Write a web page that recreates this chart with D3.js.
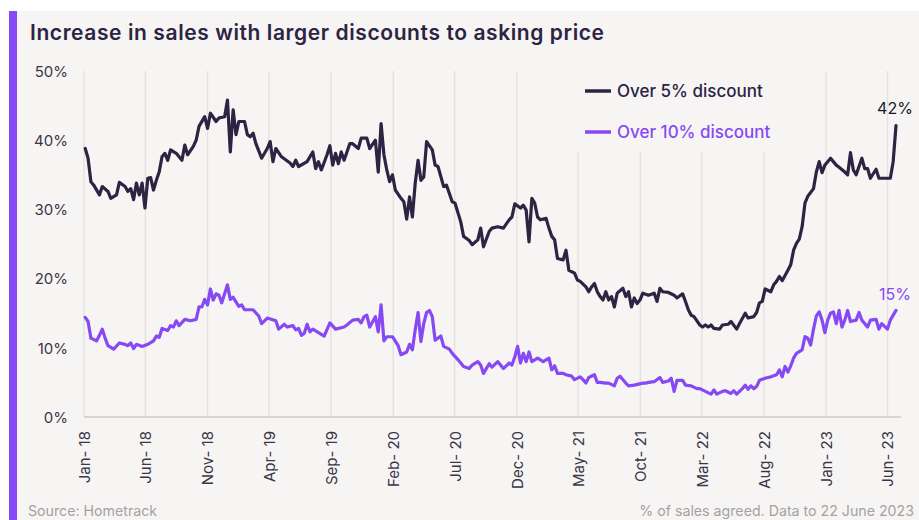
<!DOCTYPE html>
<html>
<head>
<meta charset="utf-8">
<script src="https://cdn.jsdelivr.net/npm/d3@7"></script>
<style>
  body { margin: 0; background: #ffffff; }
  svg text { font-family: Inter, "Open Sans", sans-serif; }
</style>
</head>
<body>
<div id="chart"></div>
<script>
// weekly readings, [week number from 4 Jan 2018, % of sales agreed]
const over5 = [
  [0,38.8],[1,37.4],[2,34.0],[3,33.5],[5,32.1],[6,33.3],[8,32.6],[9,31.6],[11,32.1],[12,33.9],
  [14,33.3],[15,32.6],[16,33.0],[17,31.4],[18,33.8],[19,32.1],[20,33.8],[21,30.2],[22,34.5],[23,34.6],
  [24,32.8],[25,34.2],[26,35.4],[27,37.6],[28,38.1],[29,37.1],[30,38.6],[32,38.1],[34,37.1],[35,39.3],
  [36,37.9],[38,39.1],[39,40.0],[40,42.0],[42,43.4],[43,41.7],[44,43.9],[46,42.7],[47,43.2],[49,43.4],
  [50,45.8],[51,38.3],[52,44.4],[53,40.8],[54,42.7],[56,42.7],[57,40.8],[58,40.5],[59,41.0],[60,39.5],
  [62,37.4],[64,38.8],[65,39.8],[66,36.9],[67,38.8],[69,37.6],[72,36.7],[73,36.2],[74,37.1],[75,36.2],
  [78,36.9],[80,38.3],[81,35.9],[82,36.9],[83,35.7],[85,37.9],[86,39.2],[87,36.4],[88,38.1],[89,36.6],
  [90,38.3],[91,37.1],[93,39.5],[94,39.5],[96,38.8],[97,40.3],[99,40.3],[100,38.8],[102,40.0],[103,35.4],
  [104,42.4],[105,37.9],[106,35.7],[107,34.0],[108,35.0],[109,32.8],[111,31.6],[112,31.1],[113,28.6],[114,31.8],
  [115,28.9],[116,33.8],[117,37.1],[118,34.2],[119,34.7],[120,39.8],[122,38.6],[123,36.4],[124,36.2],[126,33.3],
  [127,33.5],[129,31.1],[130,30.9],[132,28.2],[133,26.1],[135,25.5],[136,24.9],[138,25.6],[139,27.3],[140,24.6],
  [142,26.8],[143,27.3],[145,27.5],[147,27.3],[149,28.5],[150,28.9],[151,30.8],[153,30.2],[154,30.6],[155,29.9],
  [156,25.3],[157,31.6],[158,30.9],[159,28.9],[160,28.5],[162,28.7],[163,27.3],[164,26.1],[165,25.6],[166,22.9],
  [168,22.7],[169,24.1],[170,21.2],[172,20.8],[173,19.8],[174,19.6],[176,18.8],[177,18.1],[178,18.8],[179,19.3],
  [180,18.1],[181,17.4],[182,16.9],[183,18.1],[184,16.9],[185,17.4],[186,15.9],[187,17.9],[189,18.6],[190,17.4],
  [191,18.1],[192,15.9],[193,17.2],[194,16.4],[195,16.9],[196,17.9],[198,17.6],[200,17.9],[201,16.7],[202,18.6],
  [203,18.1],[205,18.0],[207,17.6],[208,17.2],[210,17.8],[211,16.7],[212,15.5],[213,14.7],[214,14.5],[216,13.3],
  [217,13.0],[218,13.3],[219,13.0],[220,13.3],[221,12.8],[223,12.7],[224,13.3],[226,13.4],[227,13.8],[229,12.7],
  [230,13.5],[232,15.0],[233,14.3],[235,14.5],[236,15.1],[237,16.5],[238,16.7],[239,18.5],[241,18.1],[242,19.1],
  [243,19.6],[244,20.3],[245,19.7],[247,21.2],[248,22.0],[249,24.1],[250,25.1],[251,25.7],[252,27.5],[253,30.9],
  [254,31.9],[256,33.0],[257,35.4],[258,36.9],[259,35.3],[260,36.4],[261,36.9],[262,37.4],[264,36.4],[265,36.1],
  [267,35.4],[268,35.0],[269,38.2],[270,35.7],[271,35.0],[273,37.4],[274,35.9],[275,35.9],[276,34.5],[278,35.8],
  [279,34.5],[281,34.5],[283,34.5],[284,36.9],[285,42.1]
]

const over10 = [
  [0,14.4],[1,13.8],[2,11.4],[4,11.0],[5,11.8],[6,12.7],[7,11.4],[8,10.3],[10,9.8],[12,10.7],
  [14,10.5],[15,10.3],[16,10.7],[17,9.9],[18,10.5],[20,10.2],[22,10.5],[24,11.0],[25,11.7],[26,11.5],
  [27,12.8],[29,12.5],[30,13.2],[31,13.0],[32,13.9],[33,13.2],[35,14.1],[37,13.9],[39,14.1],[40,15.9],
  [41,15.9],[42,17.0],[43,16.2],[44,18.5],[45,16.9],[46,17.8],[47,17.6],[48,16.5],[50,19.1],[51,17.0],
  [52,17.3],[54,16.0],[55,16.2],[56,15.5],[59,15.5],[61,14.6],[62,13.5],[64,14.3],[67,13.9],[68,12.7],
  [70,13.4],[71,13.0],[73,13.2],[74,12.6],[75,12.8],[76,11.8],[77,12.1],[78,13.4],[79,12.3],[80,12.7],
  [82,12.2],[84,11.7],[86,13.6],[88,12.7],[91,13.0],[92,13.3],[94,14.0],[96,14.1],[97,13.6],[98,14.5],
  [99,14.7],[100,13.0],[102,14.5],[103,12.3],[104,16.2],[105,11.0],[106,11.6],[108,11.6],[110,10.3],[111,9.0],
  [113,9.4],[114,10.5],[115,9.7],[116,12.6],[117,15.1],[118,10.9],[119,13.5],[120,15.1],[121,15.4],[122,14.5],
  [123,11.1],[125,11.7],[126,10.2],[128,9.8],[129,9.2],[131,8.3],[133,7.3],[135,7.0],[136,7.5],[138,8.0],
  [139,7.5],[140,6.3],[142,7.7],[143,7.2],[145,8.0],[147,7.0],[149,7.8],[150,7.5],[151,8.7],[152,10.2],
  [153,7.8],[154,9.2],[155,8.0],[156,9.4],[157,8.0],[159,8.5],[161,8.0],[163,8.5],[164,6.8],[165,7.4],
  [166,6.3],[168,6.3],[169,6.1],[171,5.9],[172,5.4],[174,5.8],[175,5.4],[176,4.9],[177,5.7],[179,6.1],
  [180,5.0],[181,5.0],[183,4.9],[184,4.9],[186,4.5],[187,5.6],[188,5.9],[190,4.9],[191,4.5],[193,4.6],
  [196,4.9],[197,4.9],[198,5.0],[200,5.1],[202,5.7],[203,5.0],[205,5.2],[206,5.6],[207,3.7],[208,5.3],
  [210,5.3],[211,4.6],[213,4.5],[215,4.1],[216,4.1],[218,3.7],[220,3.3],[221,3.9],[222,3.3],[224,3.7],
  [225,3.8],[227,3.4],[228,3.8],[229,3.3],[231,4.1],[232,4.6],[233,4.0],[234,4.5],[235,4.1],[236,4.4],
  [237,5.3],[239,5.6],[240,5.7],[241,5.8],[243,6.1],[244,6.8],[245,5.8],[246,7.3],[247,6.5],[248,7.4],
  [249,8.5],[250,9.2],[252,9.7],[253,11.6],[254,11.4],[255,10.4],[256,12.7],[257,14.6],[258,15.2],[259,14.0],
  [260,12.2],[261,14.0],[262,15.0],[263,15.2],[264,13.5],[265,15.4],[266,13.0],[267,14.0],[268,15.4],[269,13.8],
  [271,14.0],[272,15.1],[273,14.0],[275,13.0],[276,14.0],[278,14.1],[279,12.7],[280,13.5],[282,12.7],[283,14.0],
  [285,15.4]
]

const weekStart = new Date(2018, 0, 4)
const tickDates = ["2018-01","2018-06","2018-11","2019-04","2019-09","2020-02","2020-07",
                   "2020-12","2021-05","2021-10","2022-03","2022-08","2023-01","2023-06"]
const tickLabels = ["Jan- 18","Jun- 18","Nov- 18","Apr- 19","Sep- 19","Feb- 20","Jul- 20",
                    "Dec- 20","May- 21","Oct- 21","Mar- 22","Aug- 22","Jan- 23","Jun- 23"]
const yTicks = [0, 10, 20, 30, 40, 50]
const seriesNames = ["Over 5% discount", "Over 10% discount"]
const endLabels = ["42%", "15%"]

const width = 919
const height = 520
const bg = "#f6f5f3"
const dark = "#2c2442"
const purple = "#8749f4"

const svg = d3.select("#chart")
	.append("svg")
	.attr("width", width)
	.attr("height", height)

svg.append("rect")
	.attr("x", 9).attr("y", 11)
	.attr("width", width - 9).attr("height", height - 11)
	.attr("fill", bg)

svg.append("rect")
	.attr("x", 9).attr("y", 11)
	.attr("width", 8).attr("height", height - 11)
	.attr("fill", purple)

let title = svg.append("text")
	.attr("x", 30).attr("y", 40)
	.attr("fill", dark)
	.attr("font-size", 21)
	.attr("font-weight", 600)
	.text("Increase in sales with larger discounts to asking price")

// the original face is wider, spread the letters to the same span
let titleLen = title.node().getComputedTextLength()
let nChars = title.text().length
title.attr("letter-spacing", Math.max(0, (574 - titleLen) / (nChars - 1)))

const parseMonth = d3.timeParse("%Y-%m")
const weekDate = w => d3.timeDay.offset(weekStart, w * 7)

let x = d3.scaleTime()
	.domain([new Date(2018, 0, 1), new Date(2023, 5, 22)])
	.range([84, 896])

let y = d3.scaleLinear()
	.domain([0, 50])
	.range([417, 71])

// vertical gridlines at each tick
svg.append("g")
	.selectAll("line")
	.data(tickDates)
	.enter()
	.append("line")
	.attr("x1", d => x(parseMonth(d)))
	.attr("x2", d => x(parseMonth(d)))
	.attr("y1", y(50))
	.attr("y2", y(0))
	.attr("stroke", "#e5e3e0")
	.attr("stroke-width", 1.5)

// legend box hides the gridlines behind it
svg.append("rect")
	.attr("x", 574).attr("y", y(50) - 1)
	.attr("width", 236).attr("height", 82)
	.attr("fill", bg)

svg.append("line")
	.attr("x1", 84).attr("x2", 901)
	.attr("y1", y(0)).attr("y2", y(0))
	.attr("stroke", "#cdcbc9")
	.attr("stroke-width", 1.5)

xAxis = g => g
	.attr("transform", `translate(0,${y(0)})`)
	.call(d3.axisBottom(x)
		.tickValues(tickDates.map(parseMonth))
		.tickSize(0)
		.tickFormat((d, i) => tickLabels[i]))
	.call(g => g.select(".domain").remove())

yAxis = g => g
	.attr("transform", "translate(68,0)")
	.call(d3.axisLeft(y)
		.tickValues(yTicks)
		.tickSize(0)
		.tickPadding(0)
		.tickFormat(d => d + "%"))
	.call(g => g.select(".domain").remove())

svg.append("g")
	.call(xAxis)
	.selectAll("text")
	.attr("transform", "rotate(-90)")
	.attr("text-anchor", "end")
	.attr("x", -14)
	.attr("y", 0)
	.attr("dy", "0.36em")
	.attr("font-size", 15)
	.attr("fill", "#3a3548")

svg.append("g")
	.call(yAxis)
	.selectAll("text")
	.attr("font-size", 15)
	.attr("dy", "0.35em")
	.attr("fill", "#3a3548")

const line = d3.line()
	.x(d => x(weekDate(d[0])))
	.y(d => y(d[1]))

const series = [over5, over10]
const colors = [dark, purple]

series.forEach(function(data, i){
	svg.append("path")
		.datum(data)
		.attr("fill", "none")
		.attr("stroke", colors[i])
		.attr("stroke-width", 3.2)
		.attr("stroke-linejoin", "round")
		.attr("stroke-linecap", "round")
		.attr("d", line)

	let last = data[data.length - 1]
	svg.append("text")
		.attr("x", x(weekDate(last[0])) - 1)
		.attr("y", y(last[1]) - (i == 0 ? 12 : 10))
		.attr("text-anchor", "middle")
		.attr("font-size", 16)
		.attr("fill", i == 0 ? "#1c1a22" : purple)
		.text(endLabels[i])
})

// legend
seriesNames.forEach(function(name, i){
	let ly = 91 + i * 41
	svg.append("line")
		.attr("x1", 585).attr("x2", 611)
		.attr("y1", ly).attr("y2", ly)
		.attr("stroke", colors[i])
		.attr("stroke-width", 3.5)
	svg.append("text")
		.attr("x", 617).attr("y", ly)
		.attr("dy", "0.35em")
		.attr("font-size", 17)
		.attr("font-weight", 500)
		.attr("fill", colors[i])
		.text(name)
})

svg.append("text")
	.attr("x", 28).attr("y", 516)
	.attr("font-size", 14.2)
	.attr("fill", "#a4a1a4")
	.text("Source: Hometrack")

svg.append("text")
	.attr("x", 914).attr("y", 516)
	.attr("text-anchor", "end")
	.attr("font-size", 14.2)
	.attr("fill", "#a4a1a4")
	.text("% of sales agreed. Data to 22 June 2023")
</script>
</body>
</html>
